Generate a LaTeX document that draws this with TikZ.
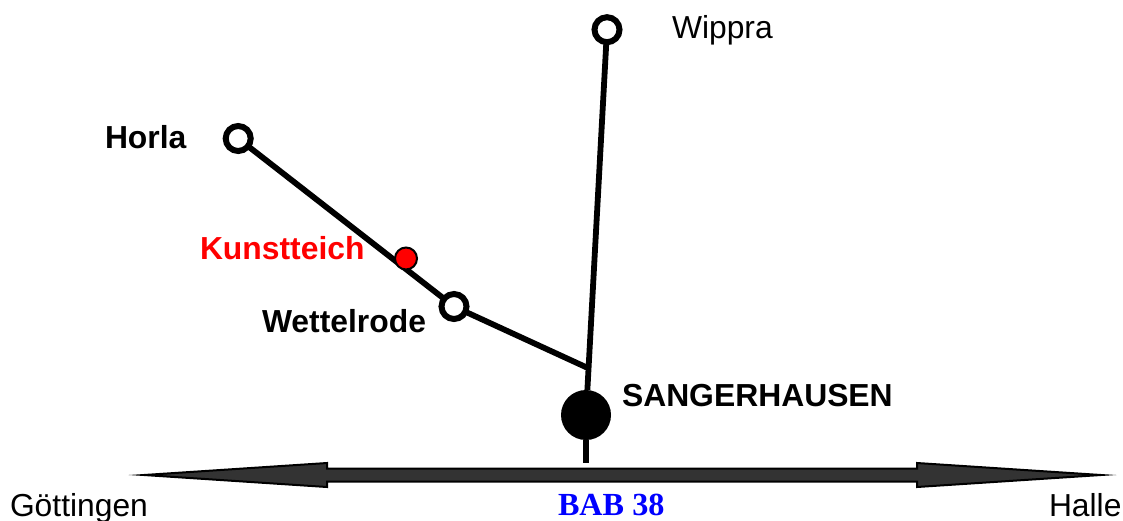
\documentclass[tikz,border=0pt]{standalone}
\usepackage{fontspec}
\setmainfont{Liberation Sans}
\newfontfamily\serifbab{Liberation Serif}
\tikzset{
  label sans/.style={anchor=base west,inner sep=0pt,outer sep=0pt,font=\fontsize{31.8}{32}\selectfont},
  label bold/.style={label sans,font=\fontsize{31.85}{32}\selectfont\bfseries},
  town/.style={circle,draw=black,fill=white,line width=6pt,minimum size=25pt,inner sep=0pt,outer sep=0pt},
  city/.style={circle,fill=black,minimum size=50pt,inner sep=0pt,outer sep=0pt},
  poi/.style={circle,draw=black,fill=red,line width=2pt,minimum size=22pt,inner sep=0pt,outer sep=0pt},
  road/.style={line width=5.8pt,draw=black},
  motorway/.style={draw=black,fill=black!80,line width=2pt,miter limit=20}
}
\begin{document}
\begin{tikzpicture}[x=1pt,y=-1pt]
\useasboundingbox (0,0) rectangle (1123,520);
\coordinate (tipL) at (144,475);
\coordinate (tipR) at (1101,475);
\coordinate (stub) at (586,463);
\coordinate (junction) at (586.8,367.5);
\draw[motorway] (tipL) -- (327,463) -- (327,468.5) -- (917,468.5) -- (917,463) -- (tipR) -- (917,487) -- (917,481.5) -- (327,481.5) -- (327,487) -- cycle;
\node[town] (wippra) at (607,29.7) {};
\node[town] (horla) at (238.2,138.5) {};
\node[town] (wettelrode) at (454,306.5) {};
\node[city] (sangerhausen) at (586,415) {};
\draw[road] (wippra) -- (sangerhausen);
\draw[road] (sangerhausen) -- (stub);
\draw[road] (horla) -- (wettelrode);
\draw[road] (wettelrode) -- (junction);
\node[poi] (kunstteich) at (406,258.5) {};
\node[label sans] (lwippra) at (672,38.5) {Wippra};
\node[label bold] (lhorla) at (105,148) {Horla};
\node[label bold,text=red] (lkunst) at (200,259) {Kunstteich};
\node[label bold] (lwett) at (262,332) {Wettelrode};
\node[label bold] (lsang) at (622,406) {SANGERHAUSEN};
\node[label sans] (lgoett) at (10,516) {Göttingen};
\node[label sans] (lhalle) at (1049,516) {Halle};
\node[label bold,text=blue,font=\serifbab\fontsize{32.2}{33}\selectfont\bfseries] (lbab) at (558,515) {BAB 38};
\end{tikzpicture}
\end{document}
